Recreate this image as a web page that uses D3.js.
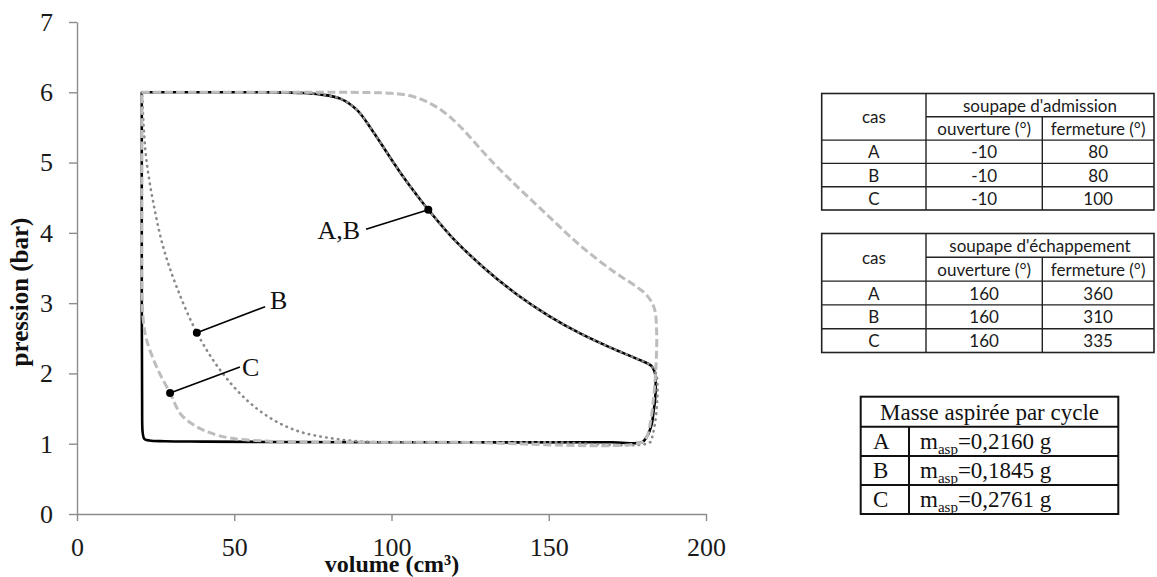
<!DOCTYPE html>
<html><head><meta charset="utf-8">
<script src="https://cdn.jsdelivr.net/npm/d3@7"></script>
<style>
html,body{margin:0;padding:0;background:#fff;}
svg{display:block;}
</style></head>
<body>
<svg id="chart" width="1157" height="577"></svg>
<script>
// ---------- data ----------
const xTicks = [0, 50, 100, 150, 200];
const yTicks = [0, 1, 2, 3, 4, 5, 6, 7];
const xLabel = "volume (cm³)";
const yLabel = "pression (bar)";

// case A : solid black (volume cm3, pression bar)
const caseA = [
  [20.6,6.0],[40,6.0],[60,6.0],[72,5.99],[77.3,5.97],[83.7,5.91],[89,5.75],[94,5.45],
  [99,5.11],[104,4.78],[108,4.54],[111.7,4.33],[120,3.90],[130,3.48],[140,3.12],
  [150,2.82],[160,2.57],[170,2.36],[180,2.17],[182.6,2.11],[183.7,2.02],[184.0,1.85],
  [183.8,1.62],[183.3,1.45],[182.8,1.29],[181.2,1.10],[179.6,1.02],[170,1.02],[120,1.02],
  [60,1.025],[40,1.03],[28,1.035],[23,1.045],[21.4,1.07],[20.9,1.15],[20.7,1.6],[20.6,3],[20.6,6.0]
];
// case B : grey dotted
const caseB = [
  [20.6,6.0],[40,6.0],[60,6.0],[72,5.99],[77.3,5.97],[83.7,5.91],[89,5.75],[94,5.45],
  [99,5.11],[104,4.78],[108,4.54],[111.7,4.33],[120,3.90],[130,3.48],[140,3.12],
  [150,2.82],[160,2.57],[170,2.36],[180,2.17],[182.6,2.11],[184.2,1.98],[184.6,1.76],
  [184.4,1.55],[183.8,1.29],[183,1.12],[182.2,1.02],[150,1.02],[110,1.02],[91,1.03],
  [80.5,1.08],[70.9,1.17],[62.4,1.34],[54,1.62],[45.5,2.05],[38.1,2.58],[31.7,3.23],
  [27.4,3.80],[24.3,4.42],[22.2,4.99],[21.2,5.5],[20.8,5.89],[20.6,6.0]
];
// case C : light grey dashed
const caseC = [
  [20.6,6.0],[60,6.0],[100,5.985],[106,5.95],[111,5.87],[116,5.74],[121,5.55],[126,5.31],
  [131,5.06],[139,4.70],[149.4,4.26],[160,3.82],[170.6,3.45],[178,3.23],[181.4,3.10],
  [183.6,2.92],[184.3,2.6],[184.2,2.2],[183.8,1.9],[183.2,1.6],[182.5,1.35],[181.2,1.10],
  [179.6,1.02],[120,1.02],[70,1.025],[59,1.04],[48.7,1.08],[42,1.16],[37,1.27],[33,1.42],
  [29.6,1.72],[26.5,1.98],[24.3,2.2],[22,2.5],[21.1,2.75],[20.7,3.1],[20.6,4.5],[20.6,6.0]
];

// annotation markers
const annLabels = ["A,B", "B", "C"];
const annMarkers = [[111.7,4.33],[38.1,2.58],[29.6,1.72]];
const annEnds = [[91.9,4.05],[59.8,2.95],[51.8,2.09]];
const annAnchors = ["end", "start", "start"];

// tables
const admTitle = "soupape d'admission";
const echTitle = "soupape d'échappement";
const casHeader = "cas";
const subHeaders = ["ouverture (°)", "fermeture (°)"];
const admRows = [["A","-10","80"],["B","-10","80"],["C","-10","100"]];
const echRows = [["A","160","360"],["B","160","310"],["C","160","335"]];
const masseTitle = "Masse aspirée par cycle";
const masseCases = ["A","B","C"];
const masseValues = ["0,2160","0,1845","0,2761"];

// ---------- drawing ----------
const svg = d3.select("#chart");
const x = d3.scaleLinear().domain([0,200]).range([77,706]);
const y = d3.scaleLinear().domain([0,7]).range([514,22]);

const axisColor = "#8c8c8c";
const serif = "'Liberation Serif','Times New Roman',serif";

const gy = svg.append("g").attr("transform","translate(77,0)")
  .call(d3.axisLeft(y).tickValues(yTicks).tickFormat(d3.format("d")).tickSize(8).tickSizeOuter(0).tickPadding(16));
const gx = svg.append("g").attr("transform","translate(0,514)")
  .call(d3.axisBottom(x).tickValues(xTicks).tickFormat(d3.format("d")).tickSize(7).tickSizeOuter(0).tickPadding(17));
[gx,gy].forEach(g=>{
  g.select(".domain").attr("stroke",axisColor).attr("stroke-width",1.4);
  g.selectAll(".tick line").attr("stroke",axisColor).attr("stroke-width",1.4);
  g.selectAll(".tick text").attr("fill","#1a1a1a").style("font-family",serif).style("font-size","26px");
});

const line = d3.line().x(d=>x(d[0])).y(d=>y(d[1])).curve(d3.curveCatmullRom.alpha(0.5));

svg.append("path").datum(caseA).attr("d",line)
  .attr("fill","none").attr("stroke","#000").attr("stroke-width",2.6).attr("stroke-linejoin","round");
svg.append("path").datum(caseB).attr("d",line)
  .attr("fill","none").attr("stroke","#8a8a8a").attr("stroke-width",2.6)
  .attr("stroke-linecap","round").attr("stroke-dasharray","0.5,5.4");
svg.append("path").datum(caseC).attr("d",line)
  .attr("fill","none").attr("stroke","#bdbdbd").attr("stroke-width",3)
  .attr("stroke-dasharray","8,3.6");

// annotations
annLabels.forEach((lab,i)=>{
  const m = annMarkers[i], e = annEnds[i];
  svg.append("line").attr("x1",x(m[0])).attr("y1",y(m[1])).attr("x2",x(e[0])).attr("y2",y(e[1]))
    .attr("stroke","#000").attr("stroke-width",1.6);
  svg.append("circle").attr("cx",x(m[0])).attr("cy",y(m[1])).attr("r",4).attr("fill","#000");
  const anc = annAnchors[i];
  svg.append("text")
    .attr("x", x(e[0]) + (anc==="end" ? -6 : (lab==="B" ? 5 : 2)))
    .attr("y", y(e[1]) + (lab==="A,B" ? 9.5 : (lab==="B" ? 2.6 : 9.2)))
    .attr("text-anchor",anc).attr("fill","#111")
    .style("font-family",serif).style("font-size","26px").text(lab);
});

// axis titles
svg.append("text").attr("x",392).attr("y",572).attr("text-anchor","middle")
  .style("font-family",serif).style("font-size","24px").style("font-weight","bold").attr("fill","#111")
  .text(xLabel);
svg.append("text").attr("transform","translate(28,292) rotate(-90)").attr("text-anchor","middle")
  .style("font-family",serif).style("font-size","25px").style("font-weight","bold").attr("fill","#111")
  .text(yLabel);

// ---------- valve tables ----------
const sans = "Lato,'Open Sans',sans-serif";
function valveTable(top, rowH, title, rows){
  const x0 = 821.7, c1 = 926, c2 = 1042.3, x1 = 1154;
  const g = svg.append("g");
  const bottom = top + rowH*5;
  const ln = (a,b,c,d)=>g.append("line").attr("x1",a).attr("y1",b).attr("x2",c).attr("y2",d)
    .attr("stroke","#222").attr("stroke-width",1.4);
  g.append("rect").attr("x",x0).attr("y",top).attr("width",x1-x0).attr("height",bottom-top)
    .attr("fill","none").attr("stroke","#222").attr("stroke-width",1.6);
  ln(c1,top,c1,bottom);
  ln(c2,top+rowH,c2,bottom);
  ln(c1,top+rowH,x1,top+rowH);
  for(let r=2;r<5;r++) ln(x0,top+rowH*r,x1,top+rowH*r);
  const txt = (tx,ty,s)=>g.append("text").attr("x",tx).attr("y",ty).attr("text-anchor","middle")
    .attr("dominant-baseline","central").attr("fill","#1a1a1a")
    .style("font-family",sans).style("font-size","17px").text(s);
  txt((x0+c1)/2, top+rowH, casHeader);
  txt((c1+x1)/2, top+rowH*0.5, title);
  txt((c1+c2)/2, top+rowH*1.5, subHeaders[0]);
  txt((c2+x1)/2, top+rowH*1.5, subHeaders[1]);
  rows.forEach((r,i)=>{
    const cy = top + rowH*(2.5+i);
    txt((x0+c1)/2, cy, r[0]);
    txt((c1+c2)/2, cy, r[1]);
    txt((c2+x1)/2, cy, r[2]);
  });
}
valveTable(93.5, 23.3, admTitle, admRows);
valveTable(233.5, 23.8, echTitle, echRows);

// ---------- masse table ----------
(function(){
  const x0 = 860.7, c1 = 909, x1 = 1118.3;
  const ys = [396.7, 426.7, 456, 485, 514];
  const g = svg.append("g");
  g.append("rect").attr("x",x0).attr("y",ys[0]).attr("width",x1-x0).attr("height",ys[4]-ys[0])
    .attr("fill","none").attr("stroke","#111").attr("stroke-width",2);
  for(let i=1;i<4;i++) g.append("line").attr("x1",x0).attr("x2",x1).attr("y1",ys[i]).attr("y2",ys[i])
    .attr("stroke","#111").attr("stroke-width",2);
  g.append("line").attr("x1",c1).attr("x2",c1).attr("y1",ys[1]).attr("y2",ys[4])
    .attr("stroke","#111").attr("stroke-width",2);
  g.append("text").attr("x",(x0+x1)/2).attr("y",ys[1]-7).attr("text-anchor","middle")
    .attr("fill","#111").style("font-family",serif).style("font-size","23px").text(masseTitle);
  masseCases.forEach((c,i)=>{
    const base = ys[i+2]-7;
    g.append("text").attr("x",873).attr("y",base).attr("fill","#111")
      .style("font-family",serif).style("font-size","23px").text(c);
    const t = g.append("text").attr("x",920).attr("y",base).attr("fill","#111")
      .style("font-family",serif).style("font-size","23px");
    t.append("tspan").text("m");
    t.append("tspan").attr("dy",5).style("font-size","15px").text("asp");
    t.append("tspan").attr("dy",-5).text("=" + masseValues[i] + " g");
  });
})();
</script>
</body></html>
